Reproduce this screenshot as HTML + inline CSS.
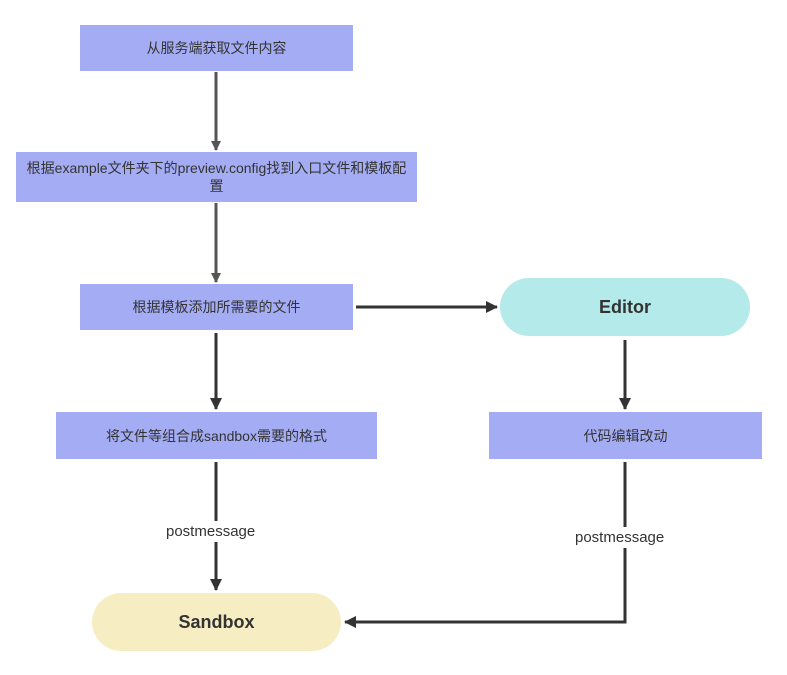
<!DOCTYPE html>
<html><head><meta charset="utf-8"><style>
body{margin:0;width:787px;height:675px;background:#fff;position:relative;font-family:"Liberation Sans","Noto Sans CJK SC",sans-serif;overflow:hidden}
.b{position:absolute;background:#a4acf4;color:#333;font-size:14px;display:flex;align-items:center;justify-content:center;text-align:center;line-height:18px}
.r{position:absolute;display:flex;align-items:center;justify-content:center;font-size:18px;font-weight:bold;color:#333;border-radius:29px}
.l{position:absolute;font-size:15px;color:#333;background:#fff;padding:2px 0}
</style></head><body>
<svg width="787" height="675" style="position:absolute;left:0;top:0">
<defs>
<marker id="g" markerWidth="10" markerHeight="10" refX="9" refY="5" orient="auto" markerUnits="userSpaceOnUse"><path d="M0,0 L10,5 L0,10 z" fill="#555"/></marker>
<marker id="d" markerWidth="12" markerHeight="12" refX="11" refY="6" orient="auto" markerUnits="userSpaceOnUse"><path d="M0,0 L12,6 L0,12 z" fill="#333"/></marker>
</defs>
<g stroke-width="3" fill="none">
<line x1="216" y1="72" x2="216" y2="150" stroke="#555" marker-end="url(#g)"/>
<line x1="216" y1="203" x2="216" y2="282" stroke="#555" marker-end="url(#g)"/>
<line x1="356" y1="307" x2="497" y2="307" stroke="#333" marker-end="url(#d)"/>
<line x1="216" y1="333" x2="216" y2="409" stroke="#333" marker-end="url(#d)"/>
<line x1="625" y1="340" x2="625" y2="409" stroke="#333" marker-end="url(#d)"/>
<line x1="216" y1="462" x2="216" y2="590" stroke="#333" marker-end="url(#d)"/>
<polyline points="625,462 625,622 345,622" stroke="#333" marker-end="url(#d)"/>
</g></svg>
<div class="b" style="left:80px;top:25px;width:273px;height:46px">从服务端获取文件内容</div>
<div class="b" style="left:16px;top:152px;width:401px;height:50px;padding:0 6px;box-sizing:border-box">根据example文件夹下的preview.config找到入口文件和模板配置</div>
<div class="b" style="left:80px;top:284px;width:273px;height:46px">根据模板添加所需要的文件</div>
<div class="b" style="left:56px;top:412px;width:321px;height:47px">将文件等组合成sandbox需要的格式</div>
<div class="b" style="left:489px;top:412px;width:273px;height:47px">代码编辑改动</div>
<div class="r" style="left:500px;top:278px;width:250px;height:58px;background:#b5eaea">Editor</div>
<div class="r" style="left:92px;top:593px;width:249px;height:58px;background:#f7edc3">Sandbox</div>
<div class="l" style="left:166px;top:521px">postmessage</div>
<div class="l" style="left:575px;top:527px">postmessage</div>
</body></html>
